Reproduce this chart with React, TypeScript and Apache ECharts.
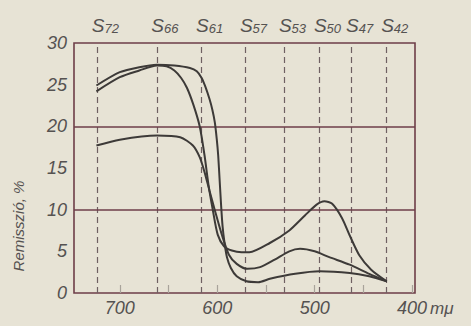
import { useEffect, useRef } from "react";
import * as echarts from "echarts";

// Sample marker positions (mμ) and their subscript names
const sampleNames = ["72", "66", "61", "57", "53", "50", "47", "42"];
const sampleNm = [723, 662, 616, 571, 531, 495, 462, 426];

// Axis ticks
const xTickLabels = [400, 500, 600, 700];
const xMinorTicks = [400, 450, 500, 550, 600, 650, 700];
const yRefLines = [10, 20];

// Curve A: plateau ~27, early drop, peak near 490 mμ
const curveA_nm = [724, 700, 680, 662, 652, 644, 637, 631, 624.5, 618, 613, 609, 604.6, 599.5, 593, 585, 575, 567, 546, 526, 510, 498, 490, 482, 472, 464, 454, 442, 426];
const curveA_pct = [24.2, 25.9, 26.7, 27.3, 27.2, 26.7, 25.8, 24.6, 22.6, 20.0, 16.5, 13.0, 10.0, 7.0, 5.6, 5.1, 4.9, 4.9, 6.0, 7.5, 9.3, 10.6, 11.0, 10.7, 9.0, 6.9, 4.5, 2.8, 1.4];

// Curve B: plateau ~27, late drop, lowest in the blue region
const curveB_nm = [724, 700, 680, 662, 644, 628, 621, 616, 612, 608, 605, 602.5, 600.5, 599, 597.5, 596, 594.5, 592.5, 590, 586, 580, 570, 558, 546, 520, 495, 464, 444, 426];
const curveB_pct = [24.9, 26.5, 27.1, 27.4, 27.3, 27.0, 26.6, 25.8, 24.7, 23.3, 22.0, 20.5, 18.5, 16.5, 13.5, 10.5, 8.0, 6.0, 4.3, 3.0, 2.0, 1.4, 1.3, 1.7, 2.3, 2.6, 2.4, 2.0, 1.4];

// Curve C: plateau ~18.5, middle curve in the blue region
const curveC_nm = [724, 700, 662, 638, 625, 618, 613, 608, 602.6, 595, 588, 580, 569, 556, 541, 526, 515, 500, 485, 464, 444, 426];
const curveC_pct = [17.7, 18.4, 18.9, 18.7, 17.7, 16.3, 14.5, 12.3, 10.0, 6.9, 4.6, 3.5, 2.9, 3.1, 4.0, 5.0, 5.3, 5.0, 4.3, 3.4, 2.3, 1.4];

const zip = (a: number[], b: number[]) => a.map((v, i) => [v, b[i]]);

const BG = "#e7e3d5";
const FRAME = "#6e3e48";
const INK = "#3d3a38";
const LABEL = "#555251";
const FONT = "Liberation Sans";

export default function App() {
  const ref = useRef<HTMLDivElement>(null);
  useEffect(() => {
    if (!ref.current) return;
    const chart = echarts.init(ref.current, null, { renderer: "svg" });
    const lineSeries = (name: string, data: number[][], extra: any = {}) => ({
      type: "line",
      name,
      data,
      smooth: 0.25,
      symbol: "none",
      lineStyle: { color: INK, width: 2 },
      z: 5,
      ...extra,
    });
    chart.setOption({
      animation: false,
      backgroundColor: BG,
      grid: {
        left: 74,
        right: 56,
        top: 43,
        bottom: 33,
        show: true,
        borderColor: FRAME,
        borderWidth: 1.6,
        backgroundColor: "transparent",
      },
      xAxis: [
        {
          type: "value",
          min: 397,
          max: 747,
          inverse: true,
          axisLine: { show: false },
          splitLine: { show: false },
          axisTick: {
            show: true,
            inside: true,
            length: 8,
            customValues: xMinorTicks,
            lineStyle: { color: "#a8a39a", width: 1.2 },
          },
          axisLabel: {
            customValues: xTickLabels,
            color: LABEL,
            fontSize: 18,
            fontStyle: "italic",
            fontFamily: FONT,
            margin: 6,
          },
        },
        {
          type: "value",
          position: "top",
          min: 397,
          max: 747,
          inverse: true,
          axisLine: { show: false },
          axisTick: { show: false },
          splitLine: { show: false },
          axisLabel: {
            customValues: sampleNm,
            margin: 8,
            padding: [0, 0, 0, 16],
            formatter: (v: number) => {
              const i = sampleNm.findIndex((s) => Math.abs(s - v) < 0.5);
              return i >= 0 ? `{s|S}{n|${sampleNames[i]}}` : "";
            },
            rich: {
              s: { fontSize: 19, fontStyle: "italic", fontFamily: FONT, color: LABEL, verticalAlign: "bottom", lineHeight: 20 },
              n: { fontSize: 13, fontStyle: "italic", fontFamily: FONT, color: LABEL, verticalAlign: "bottom", lineHeight: 14, padding: [4, 0, 0, 0] },
            },
          },
        },
      ],
      yAxis: {
        type: "value",
        min: 0,
        max: 30,
        interval: 5,
        axisLine: { show: false },
        splitLine: { show: false },
        axisTick: { show: false },
        axisLabel: {
          color: LABEL,
          fontSize: 18,
          fontStyle: "italic",
          fontFamily: FONT,
          margin: 7,
        },
      },
      series: [
        lineSeries("A", zip(curveA_nm, curveA_pct), {
          markLine: {
            silent: true,
            symbol: "none",
            label: { show: false },
            z: 2,
            data: [
              ...sampleNm.map((v) => ({
                xAxis: v,
                lineStyle: { color: "#6f6062", type: [6, 4], width: 1.2 },
              })),
              ...yRefLines.map((v) => ({
                yAxis: v,
                lineStyle: { color: FRAME, type: "solid", width: 1.5 },
              })),
            ],
          },
        }),
        lineSeries("B", zip(curveB_nm, curveB_pct)),
        lineSeries("C", zip(curveC_nm, curveC_pct)),
      ],
      graphic: [
        {
          type: "text",
          x: 18,
          y: 226,
          rotation: Math.PI / 2,
          style: {
            text: "Remisszió, %",
            fill: LABEL,
            font: `italic 15px ${FONT}`,
            align: "center",
            verticalAlign: "middle",
          },
        },
        {
          type: "text",
          x: 430,
          y: 308,
          style: {
            text: "mμ",
            fill: LABEL,
            font: `italic 17px ${FONT}`,
            align: "left",
            verticalAlign: "middle",
          },
        },
      ],
    });
    return () => chart.dispose();
  }, []);
  return (
    <div
      ref={ref}
      style={{ position: "fixed", left: 0, top: 0, width: 471, height: 326, background: BG }}
    />
  );
}
